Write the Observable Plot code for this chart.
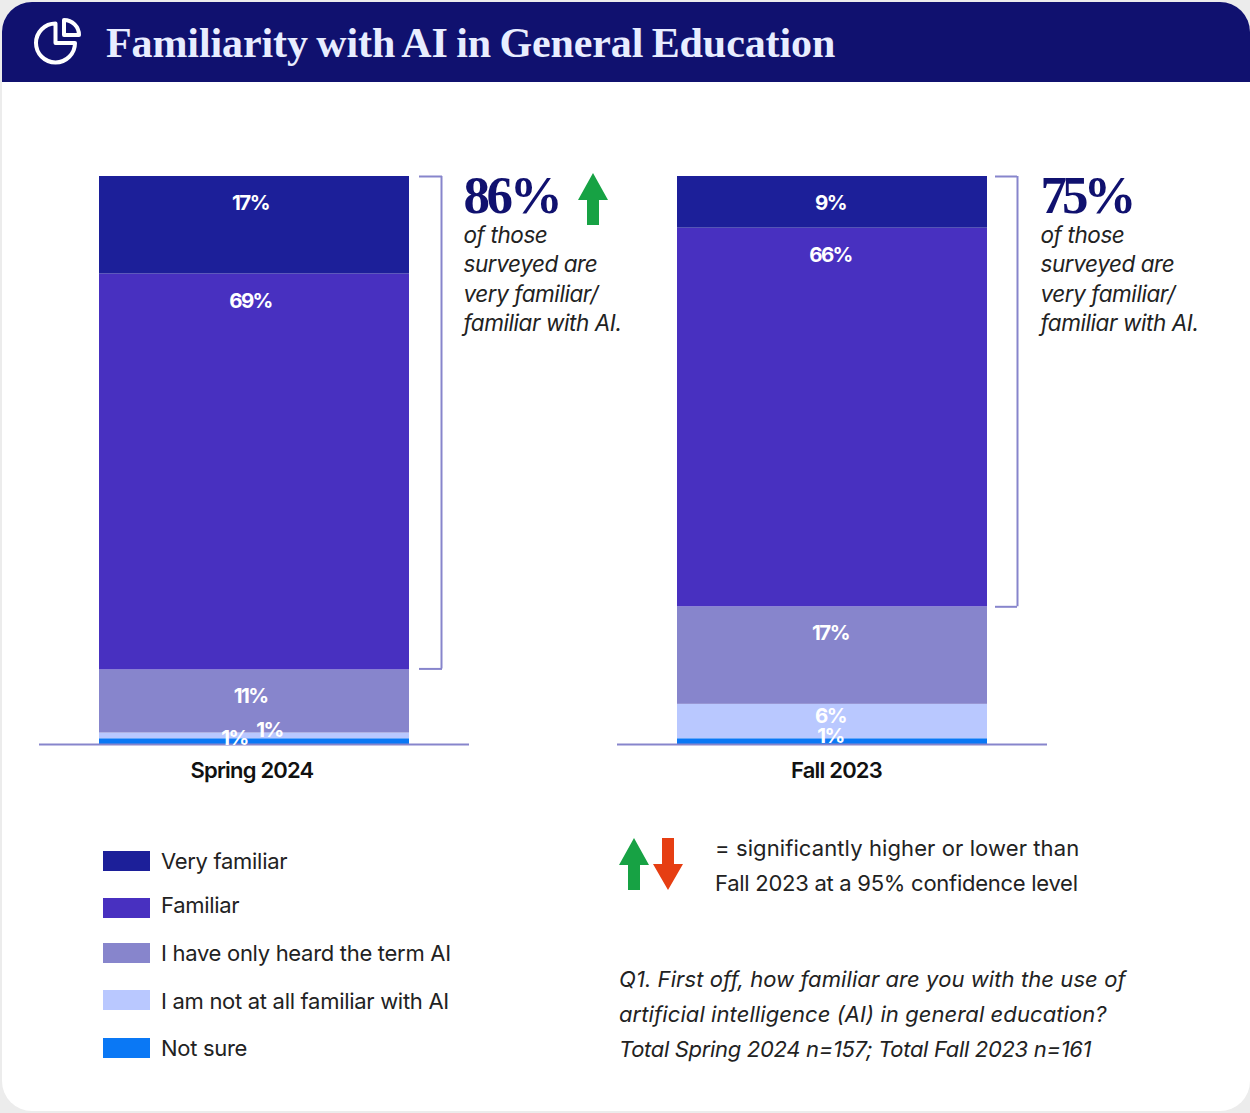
<!DOCTYPE html>
<html>
<head>
<meta charset="utf-8">
<script src="https://cdn.jsdelivr.net/npm/d3@7"></script>
<script src="https://cdn.jsdelivr.net/npm/@observablehq/plot@0.6"></script>
<style>
  html,body{margin:0;padding:0;background:#ececec;}
  body{width:1250px;height:1113px;overflow:hidden;font-family:Inter,Lato,sans-serif;color:#222;}
  #card{position:absolute;left:2px;top:2px;width:1248px;height:1109px;background:#fff;border-radius:30px;overflow:hidden;}
  #head{position:absolute;left:0;top:0;width:1248px;height:80px;background:#10116f;}
  #head h1{position:absolute;left:104px;top:16px;margin:0;font:700 42px/50px "Liberation Serif",serif;color:#e8edff;white-space:nowrap;letter-spacing:-.1px;word-spacing:-2px;}
  #head svg{position:absolute;left:31px;top:15px;}
  #chart{position:absolute;left:-2px;top:80px;}
  #chart svg{display:block;overflow:visible;}
  .abs{position:absolute;white-space:nowrap;}
  .lg{font-size:22px;line-height:28px;letter-spacing:-.3px;color:#222;}
  .sw{position:absolute;width:47px;height:20px;}
  .note{font-size:22px;line-height:35px;color:#222;}
  .pct{letter-spacing:-1.6px;}
  .period{letter-spacing:-.8px;}
  .blurb{letter-spacing:-.42px;}
  .big1{letter-spacing:-3.4px;}
  .big2{letter-spacing:-5px;}
</style>
</head>
<body>
<div id="card">
  <div id="head">
    <svg width="50" height="50" viewBox="0 0 50 50" fill="none" stroke="#fff" stroke-width="4" stroke-linejoin="round">
      <path d="M22.5 6.5 A19.5 19.5 0 1 0 42 26 L22.5 26 Z"/>
      <path d="M31 3 A15 15 0 0 1 46 18 L31 18 Z"/>
    </svg>
    <h1>Familiarity with AI in General Education</h1>
  </div>
  <div id="chart"></div>
</div>
<script>
const periods = ["Spring 2024", "Fall 2023"];
const categories = ["Not sure", "I am not at all familiar with AI", "I have only heard the term AI", "Familiar", "Very familiar"];
const colors = ["#0a78f5", "#b9c8ff", "#8785cc", "#4830c0", "#1c1f99"];
const spring = [1, 1, 11, 69, 17];
const fall = [1, 6, 17, 66, 9];
const axisMax = 99;
const summaries = [["Spring 2024", 86], ["Fall 2023", 75]];
const legendOrder = ["Very familiar", "Familiar", "I have only heard the term AI", "I am not at all familiar with AI", "Not sure"];

const rows = [];
[spring, fall].forEach((vals, p) => {
  let top = 0;
  vals.forEach((v, c) => {
    top += v;
    rows.push({period: periods[p], category: categories[c], value: v, top, idx: c});
  });
});
const big = p => rows.filter(d => d.value >= 9 && d.period === p);
const pick = (p, c) => rows.filter(d => d.period === p && d.idx === c);
const label = {fill: "#fff", fontSize: 20.5, fontWeight: 700, fontFamily: "Inter", className: "pct", text: d => d.value + "%", x: "period", y: "top"};
const seriesTop = (p) => summaries.find(s => s[0] === p)[1];
const brace = "#8785cc";

function bracket(p, left, right, dxV, lift) {
  const d = [{period: p, y1: axisMax, y2: axisMax - seriesTop(p)}];
  return [
    Plot.tickY(d, {x: "period", y: "y1", stroke: brace, strokeWidth: 2, insetLeft: left, insetRight: right}),
    Plot.tickY(d, {x: "period", y: "y2", stroke: brace, strokeWidth: 2, insetLeft: left, insetRight: right, dy: lift}),
    Plot.ruleX(d, {x: "period", y1: "y1", y2: "y2", stroke: brace, strokeWidth: 2, dx: dxV, insetBottom: -lift})
  ];
}
function summary(p, dx, cls) {
  const d = [{period: p, v: seriesTop(p), top: axisMax}];
  return [
    Plot.text(d, {x: "period", y: "top", text: e => e.v + "%", dx, dy: 20, textAnchor: "start", fontFamily: "Liberation Serif", fontWeight: 700, fontSize: 53, className: cls, fill: "#10116f"}),
    Plot.text(d, {x: "period", y: "top", text: () => "of those\nsurveyed are\nvery familiar/\nfamiliar with AI.", dx, dy: 101, textAnchor: "start", lineHeight: 1.31, fontFamily: "Inter", fontStyle: "italic", fontSize: 22.5, className: "blurb", fill: "#222"})
  ];
}
const periodLabel = (p, dx) => Plot.text([p], {x: d => d, y: () => 0, text: d => d, dx, dy: 26, fontFamily: "Inter", fontWeight: 600, fontSize: 22, className: "period", fill: "#111"});

const plot = Plot.plot({
  width: 1250,
  height: 712,
  margin: 0,
  style: {background: "transparent", overflow: "visible"},
  x: {domain: periods, range: [99, 987], paddingInner: 0.464, paddingOuter: 0, align: 0, axis: null},
  y: {domain: [0, axisMax], range: [662, 94], axis: null},
  color: {domain: categories, range: colors},
  marks: [
    Plot.barY(rows, {x: "period", y: "value", fill: "category", order: categories}),
    Plot.tickY(periods.map(p => ({period: p})), {x: "period", y: () => 0, stroke: brace, strokeWidth: 2, insetLeft: -60, insetRight: -60}),
    Plot.text(big("Spring 2024"), {...label, dx: -4, dy: 27}),
    Plot.text(big("Fall 2023"), {...label, dx: -2, dy: 27}),
    Plot.text(pick("Spring 2024", 1), {...label, dx: 15, dy: -3}),
    Plot.text(pick("Spring 2024", 0), {...label, dx: -20, dy: 0}),
    Plot.text(pick("Fall 2023", 1), {...label, dx: -2, dy: 12}),
    Plot.text(pick("Fall 2023", 0), {...label, dx: -2, dy: -2}),
    periodLabel("Spring 2024", -2.5),
    periodLabel("Fall 2023", 4),
    ...bracket("Spring 2024", 320, -33, 187, -1),
    ...summary("Spring 2024", 209, "big1"),
    ...bracket("Fall 2023", 318, -30, 185, 0),
    ...summary("Fall 2023", 208, "big2")
  ]
});
document.getElementById("chart").append(plot);

const card = document.getElementById("card");
const swatchY = [849, 896, 941, 988, 1036];
const textY = [845, 889, 937, 985, 1032];
legendOrder.forEach((name, i) => {
  const sw = document.createElement("div");
  sw.className = "sw";
  sw.style.cssText = `left:101px;top:${swatchY[i]}px;background:${colors[categories.indexOf(name)]}`;
  const t = document.createElement("div");
  t.className = "abs lg";
  t.style.cssText = `left:159px;top:${textY[i]}px`;
  t.textContent = name;
  card.append(sw, t);
});
function addHtml(html){ const w=document.createElement("div"); w.innerHTML=html; while(w.firstChild) card.append(w.firstChild); }
const up = '<path d="M15 0 L30 27 L21 27 L21 52 L9 52 L9 27 L0 27 Z" fill="#17a244"/>';
const down = '<path d="M9 0 L21 0 L21 26 L30 26 L15 52 L0 26 L9 26 Z" fill="#e63e12"/>';
addHtml(`<svg class="abs" style="left:576px;top:171px" width="30" height="52">${up}</svg>`);
addHtml(`<svg class="abs" style="left:617px;top:836px" width="30" height="52">${up}</svg>`);
addHtml(`<svg class="abs" style="left:651px;top:836px" width="30" height="52">${down}</svg>`);
addHtml(`<div class="abs note" style="left:713px;top:829px"><span style="letter-spacing:.1px">= significantly higher or lower than</span><br><span style="letter-spacing:-.27px">Fall 2023 at a 95% confidence level</span></div>`);
addHtml(`<div class="abs note" style="left:617px;top:960px;font-style:italic"><span style="letter-spacing:.08px">Q1. First off, how familiar are you with the use of</span><br><span style="letter-spacing:.08px">artificial intelligence (AI) in general education?</span><br><span style="letter-spacing:-.32px">Total Spring 2024 n=157; Total Fall 2023 n=161</span></div>`);
</script>
</body>
</html>
